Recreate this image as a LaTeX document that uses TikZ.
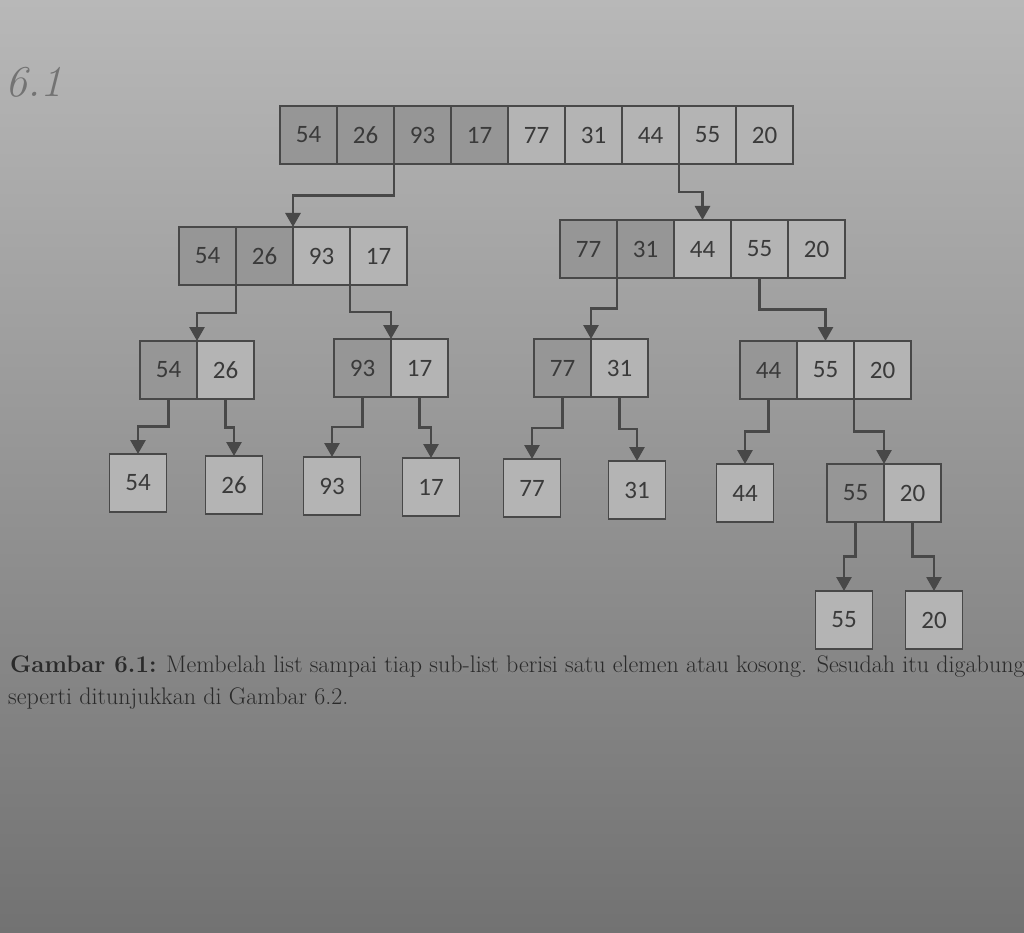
\documentclass[tikz,border=0pt]{standalone}
\usepackage{fontspec}
\newfontfamily\carlito{Carlito}
\usetikzlibrary{arrows.meta, positioning, calc}
\definecolor{bgtop}{RGB}{184, 184, 184}
\definecolor{bgmid}{RGB}{168, 168, 168}
\definecolor{bgbot}{RGB}{114, 114, 114}
\definecolor{celldark}{RGB}{150, 150, 150}
\definecolor{celllight}{RGB}{180, 180, 180}
\definecolor{linegray}{RGB}{72, 72, 72}
\definecolor{numgray}{RGB}{58, 58, 58}
\definecolor{captext}{RGB}{42, 42, 42}
\tikzset{
  cell/.style={draw=linegray, line width=1.2pt, minimum width=57pt, minimum height=58pt,
    inner sep=0pt, outer sep=0pt, text=numgray, font=\carlito\fontsize{25}{25}\selectfont},
  arr/.style={draw=linegray, line width=2.8pt, -{Triangle[width=15pt, length=14pt]}},
  captxt/.style={anchor=base west, inner sep=0pt, text=captext, font=\fontsize{24}{24}\selectfont}
}

\begin{document}
\begin{tikzpicture}[x=1pt, y=-1pt]
  \useasboundingbox (0,0) rectangle (1024,933);
  \clip (0,0) rectangle (1024,933);
  % page
  \fill[top color=bgtop, middle color=bgmid, bottom color=bgbot] (0,0) rectangle (1024,933);

  % handwritten number
  \node[anchor=west, font=\itshape\fontsize{44}{44}\selectfont, text=black!55] (lbl) at (2,82) {6.1};

  % level 0
  \foreach \v/\c [count=\i] in {54/celldark,26/celldark,93/celldark,17/celldark,77/celllight,31/celllight,44/celllight,55/celllight,20/celllight}
    \node[cell, fill=\c] (a\i) at ({280+57*\i-28.5},135) {\v};

  % level 1
  \foreach \v/\c [count=\i] in {54/celldark,26/celldark,93/celllight,17/celllight}
    \node[cell, fill=\c] (b\i) at ({179+57*\i-28.5},256) {\v};
  \foreach \v/\c [count=\i] in {77/celldark,31/celldark,44/celllight,55/celllight,20/celllight}
    \node[cell, fill=\c] (c\i) at ({560+57*\i-28.5},249) {\v};

  % level 2
  \node[cell, fill=celldark] (d1) at (168.5,370) {54};
  \node[cell, fill=celllight, right=0pt of d1] (d2) {26};
  \node[cell, fill=celldark] (e1) at (362.5,368) {93};
  \node[cell, fill=celllight, right=0pt of e1] (e2) {17};
  \node[cell, fill=celldark] (f1) at (562.5,368) {77};
  \node[cell, fill=celllight, right=0pt of f1] (f2) {31};
  \node[cell, fill=celldark] (g1) at (768.5,370) {44};
  \node[cell, fill=celllight, right=0pt of g1] (g2) {55};
  \node[cell, fill=celllight, right=0pt of g2] (g3) {20};

  % level 3
  \node[cell, fill=celllight] (h) at (138,483) {54};
  \node[cell, fill=celllight] (i) at (234,485) {26};
  \node[cell, fill=celllight] (j) at (332,486) {93};
  \node[cell, fill=celllight] (k) at (431,487) {17};
  \node[cell, fill=celllight] (l) at (532,488) {77};
  \node[cell, fill=celllight] (m) at (637,490) {31};
  \node[cell, fill=celllight] (n) at (745,493) {44};
  \node[cell, fill=celldark] (o1) at (855.5,493) {55};
  \node[cell, fill=celllight, right=0pt of o1] (o2) {20};

  % level 4
  \node[cell, fill=celllight] (p) at (844,620) {55};
  \node[cell, fill=celllight] (q) at (934,620) {20};

  % splitting arrows
  \draw[arr] (a2.south east) |- ($(a2.south east)!.5!(b2.north east)$) -| (b2.north east);
  \draw[arr] (a7.south east) |- ($(a7.south east)!.5!(c3.north)$) -| (c3.north);
  \draw[arr] (b1.south east) |- ($(b1.south east)!.5!(d1.north east)$) -| (d1.north east);
  \draw[arr] (b3.south east) |- ($(b3.south east)!.5!(e1.north east)$) -| (e1.north east);
  \draw[arr] (c1.south east) |- ($(c1.south east)!.5!(f1.north east)$) -| (f1.north east);
  \draw[arr] (c4.south) |- ($(c4.south)!.5!(g2.north)$) -| (g2.north);
  \draw[arr] (d1.south) |- ($(d1.south)!.5!(h.north)$) -| (h.north);
  \draw[arr] (d2.south) |- ($(d2.south)!.5!(i.north)$) -| (i.north);
  \draw[arr] (e1.south) |- ($(e1.south)!.5!(j.north)$) -| (j.north);
  \draw[arr] (e2.south) |- ($(e2.south)!.5!(k.north)$) -| (k.north);
  \draw[arr] (f1.south) |- ($(f1.south)!.5!(l.north)$) -| (l.north);
  \draw[arr] (f2.south) |- ($(f2.south)!.5!(m.north)$) -| (m.north);
  \draw[arr] (g1.south) |- ($(g1.south)!.5!(n.north)$) -| (n.north);
  \draw[arr] (g2.south east) |- ($(g2.south east)!.5!(o1.north east)$) -| (o1.north east);
  \draw[arr] (o1.south) |- ($(o1.south)!.5!(p.north)$) -| (p.north);
  \draw[arr] (o2.south) |- ($(o2.south)!.5!(q.north)$) -| (q.north);

  % caption
  \node[captxt] (cap1) at (10,672)
    {\textbf{Gambar 6.1:} Membelah list sampai tiap sub-list berisi satu elemen atau kosong. Sesudah itu digabung};
  \node[captxt] (cap2) at (8,704) {seperti ditunjukkan di Gambar 6.2.};
\end{tikzpicture}
\end{document}
